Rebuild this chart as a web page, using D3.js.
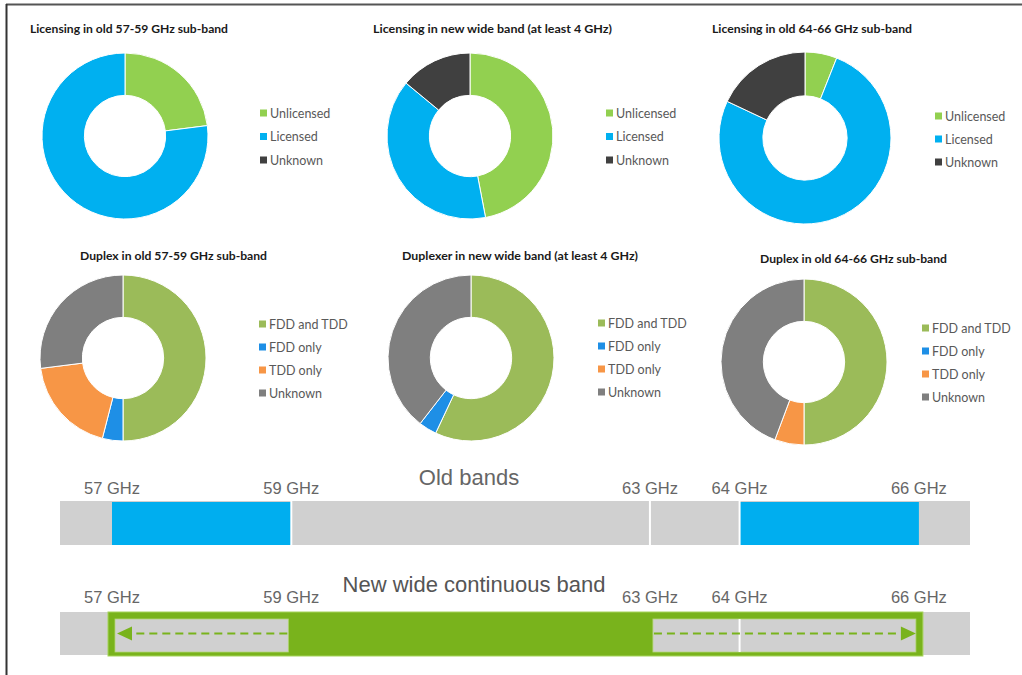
<!DOCTYPE html>
<html>
<head>
<meta charset="utf-8">
<script src="https://cdn.jsdelivr.net/npm/d3@7/dist/d3.min.js"></script>
<style>
  html, body { margin: 0; padding: 0; background: #fff; }
  svg { display: block; }
</style>
</head>
<body>
<svg id="chart" width="1022" height="675"></svg>
<script>
// ---------- DATA ----------
const licensingCategories = ["Unlicensed", "Licensed", "Unknown"];
const licensingColors = ["#92d050", "#00b0f0", "#404040"];
const licensing5759 = [23, 77, 0];
const licensingWide = [47, 39, 14];
const licensing6466 = [6, 76, 18];

const duplexCategories = ["FDD and TDD", "FDD only", "TDD only", "Unknown"];
const duplexColors = ["#9bbb59", "#1e8fe6", "#f79646", "#7f7f7f"];
const duplex5759 = [50, 4, 19, 27];
const duplexWide = [57, 3.5, 0, 39.5];
const duplex6466 = [50, 0, 5.7, 44.3];

const chartTitles = [
  "Licensing in old 57-59 GHz sub-band",
  "Licensing in new wide band (at least 4 GHz)",
  "Licensing in old 64-66 GHz sub-band",
  "Duplex in old 57-59 GHz sub-band",
  "Duplexer in new wide band (at least 4 GHz)",
  "Duplex in old 64-66 GHz sub-band"
];

// Band diagram data (GHz)
const bandExtent = [56.42, 66.57];
const tickValues = [57, 59, 63, 64, 66];
const tickLabels = ["57 GHz", "59 GHz", "63 GHz", "64 GHz", "66 GHz"];
const oldBands = [[57, 59], [64, 66]];
const oldSeparators = [59, 63, 64];
const newBand = [57, 66];
const newInnerBands = [[57, 59], [63, 66]];
const newSeparators = [64];
const bandTitles = ["Old bands", "New wide continuous band"];

// ---------- DRAW ----------
const svg = d3.select("#chart");

// frame
svg.append("line").attr("x1", 6).attr("x2", 1022).attr("y1", 4.5).attr("y2", 4.5)
  .attr("stroke", "#555").attr("stroke-width", 2);
svg.append("line").attr("x1", 6.5).attr("x2", 6.5).attr("y1", 4).attr("y2", 675)
  .attr("stroke", "#333").attr("stroke-width", 2);

const donuts = [
  {values: licensing5759, cats: licensingCategories, colors: licensingColors, title: chartTitles[0],
   cx: 125, cy: 136, R: 83, tx: 30, tw: 198, ty: 33, lx: 260, ly: 113, ldy: 23.5},
  {values: licensingWide, cats: licensingCategories, colors: licensingColors, title: chartTitles[1],
   cx: 470, cy: 136, R: 83, tx: 373, tw: 239, ty: 33, lx: 606, ly: 113, ldy: 23.5},
  {values: licensing6466, cats: licensingCategories, colors: licensingColors, title: chartTitles[2],
   cx: 805, cy: 138, R: 86, tx: 712, tw: 200, ty: 33, lx: 935, ly: 116, ldy: 23},
  {values: duplex5759, cats: duplexCategories, colors: duplexColors, title: chartTitles[3],
   cx: 123, cy: 358, R: 83, tx: 80, tw: 187, ty: 260, lx: 259, ly: 324, ldy: 23},
  {values: duplexWide, cats: duplexCategories, colors: duplexColors, title: chartTitles[4],
   cx: 471, cy: 358, R: 83, tx: 402, tw: 236, ty: 260, lx: 598, ly: 323, ldy: 23},
  {values: duplex6466, cats: duplexCategories, colors: duplexColors, title: chartTitles[5],
   cx: 804, cy: 362, R: 83, tx: 760, tw: 187, ty: 263, lx: 922, ly: 328, ldy: 23}
];

const pie = d3.pie().sort(null).value(d => d);

donuts.forEach(c => {
  const g = svg.append("g").attr("transform", `translate(${c.cx},${c.cy})`);
  const arc = d3.arc().innerRadius(c.R * 0.49).outerRadius(c.R);
  const color = d3.scaleOrdinal().domain(c.cats).range(c.colors);
  g.selectAll("path").data(pie(c.values)).join("path")
    .attr("d", arc)
    .attr("fill", (d, i) => color(c.cats[i]))
    .attr("stroke", "#fff").attr("stroke-width", d => d.value > 0 ? 1 : 0);

  svg.append("text").attr("x", c.tx).attr("y", c.ty)
    .attr("font-family", "Lato, 'Open Sans', sans-serif").attr("font-weight", "bold")
    .attr("font-size", 11.5).attr("fill", "#1a1a1a")
    .attr("textLength", c.tw).attr("lengthAdjust", "spacingAndGlyphs")
    .text(c.title);

  const ly = d3.scalePoint().domain(c.cats).range([c.ly, c.ly + c.ldy * (c.cats.length - 1)]);
  const lg = svg.append("g");
  const items = lg.selectAll("g").data(c.cats).join("g")
    .attr("transform", d => `translate(${c.lx},${ly(d)})`);
  items.append("rect").attr("x", 0).attr("y", -3.5).attr("width", 7).attr("height", 7)
    .attr("fill", d => color(d));
  items.append("text").attr("x", 10).attr("y", 4.5)
    .attr("font-family", "Lato, 'Open Sans', sans-serif").attr("font-size", 12.5)
    .attr("fill", "#595959").text(d => d);
});

// ---------- band diagram ----------
const x = d3.scaleLinear().domain(bandExtent).range([60, 970]);
const bandFont = "'Liberation Sans', Arial, sans-serif";

function ticks(y) {
  svg.append("g").selectAll("text").data(tickValues).join("text")
    .attr("x", d => x(d)).attr("y", y).attr("text-anchor", "middle")
    .attr("font-family", bandFont).attr("font-size", 16.5).attr("fill", "#666")
    .text((d, i) => tickLabels[i]);
}

// old bands
svg.append("text").attr("x", 469).attr("y", 485).attr("text-anchor", "middle")
  .attr("font-family", bandFont).attr("font-size", 22).attr("fill", "#666").text(bandTitles[0]);
ticks(494);
const oy0 = 501, oy1 = 545;
svg.append("rect").attr("x", x(bandExtent[0])).attr("y", oy0)
  .attr("width", x(bandExtent[1]) - x(bandExtent[0])).attr("height", oy1 - oy0).attr("fill", "#d0d0d0");
svg.append("g").selectAll("rect").data(oldBands).join("rect")
  .attr("x", d => x(d[0])).attr("y", oy0 + 1).attr("width", d => x(d[1]) - x(d[0]))
  .attr("height", oy1 - oy0 - 1).attr("fill", "#00aeef");
svg.append("g").selectAll("line").data(oldSeparators).join("line")
  .attr("x1", d => x(d)).attr("x2", d => x(d)).attr("y1", oy0).attr("y2", oy1)
  .attr("stroke", "#fff").attr("stroke-width", 2);

// new band
svg.append("text").attr("x", 474).attr("y", 592).attr("text-anchor", "middle")
  .attr("font-family", bandFont).attr("font-size", 22).attr("fill", "#555").text(bandTitles[1]);
ticks(603);
const ny0 = 612, ny1 = 655;
const green = "#79b31c";
svg.append("rect").attr("x", x(bandExtent[0])).attr("y", ny0)
  .attr("width", x(bandExtent[1]) - x(bandExtent[0])).attr("height", ny1 - ny0).attr("fill", "#d0d0d0");
svg.append("rect").attr("x", x(newBand[0]) - 4).attr("y", ny0)
  .attr("width", x(newBand[1]) - x(newBand[0]) + 8).attr("height", ny1 - ny0 + 1)
  .attr("fill", green).attr("stroke", "#a6d35a").attr("stroke-width", 1);
svg.append("g").selectAll("rect").data(newInnerBands).join("rect")
  .attr("x", d => x(d[0]) + 3).attr("y", ny0 + 7).attr("width", d => x(d[1]) - x(d[0]) - 6)
  .attr("height", ny1 - ny0 - 10).attr("fill", "#d0d0d0")
  .attr("stroke", "#b5d77a").attr("stroke-width", 0.8);
svg.append("g").selectAll("line").data(newSeparators).join("line")
  .attr("x1", d => x(d)).attr("x2", d => x(d)).attr("y1", ny0 + 7).attr("y2", ny1 - 3)
  .attr("stroke", "#fff").attr("stroke-width", 2);

// dashed arrows
const ay = 633.5;
// left arrow (points to 57)
svg.append("line").attr("x1", x(newInnerBands[0][1]) - 4).attr("x2", x(newInnerBands[0][0]) + 18)
  .attr("y1", ay).attr("y2", ay).attr("stroke", green).attr("stroke-width", 2.2).attr("stroke-dasharray", "8,5");
svg.append("path")
  .attr("d", `M${x(newInnerBands[0][0]) + 5},${ay} L${x(newInnerBands[0][0]) + 20},${ay - 7} L${x(newInnerBands[0][0]) + 20},${ay + 7} Z`)
  .attr("fill", green);
// right arrow (points to 66)
svg.append("line").attr("x1", x(newInnerBands[1][0]) + 4).attr("x2", x(newInnerBands[1][1]) - 18)
  .attr("y1", ay).attr("y2", ay).attr("stroke", green).attr("stroke-width", 2.2).attr("stroke-dasharray", "8,5");
svg.append("path")
  .attr("d", `M${x(newInnerBands[1][1]) - 3},${ay} L${x(newInnerBands[1][1]) - 18},${ay - 7} L${x(newInnerBands[1][1]) - 18},${ay + 7} Z`)
  .attr("fill", green);
</script>
</body>
</html>
